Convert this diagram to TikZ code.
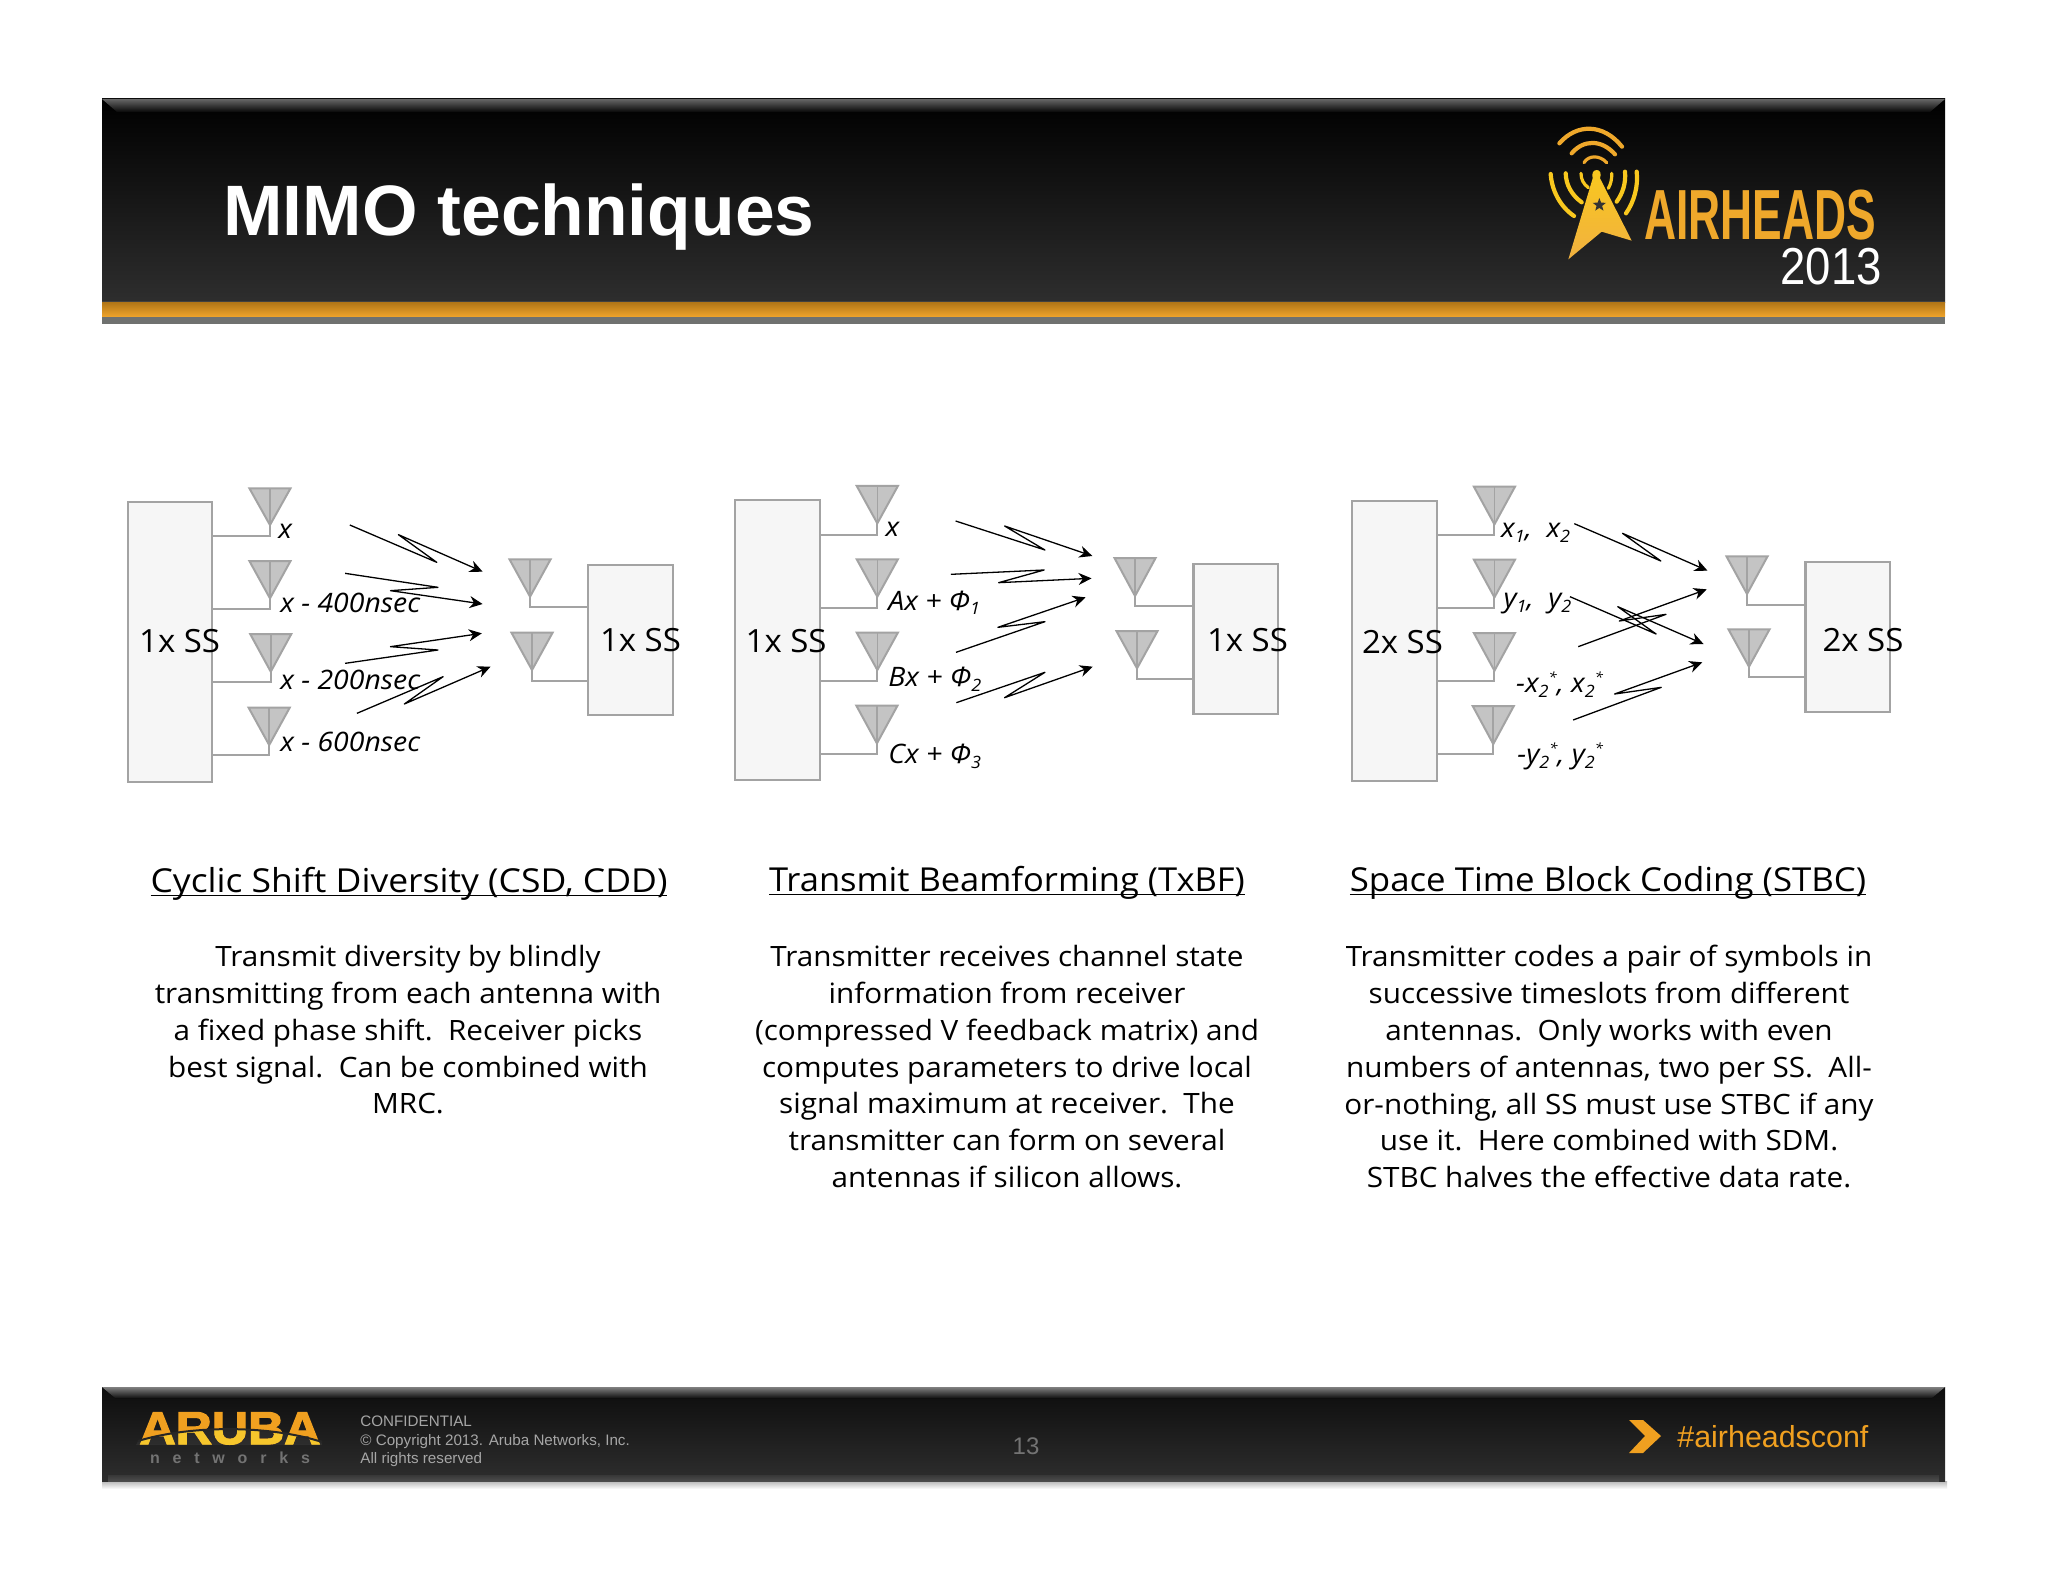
\documentclass[tikz,border=0pt]{standalone}
\usepackage{fontspec}
\setmainfont{Open Sans}
\newfontfamily\arialf{Liberation Sans}
\newfontface\arubaf{Liberation Sans Bold}[FakeBold=2.5]
\usetikzlibrary{arrows.meta,shapes.geometric}
\definecolor{boxfill}{HTML}{F6F6F6}
\definecolor{boxline}{HTML}{A3A3A3}
\definecolor{antfill}{HTML}{C4C4C4}
\definecolor{barorange}{HTML}{F0A020}
\definecolor{logoorange}{HTML}{EFA82B}
\definecolor{logoyellow}{HTML}{F9C81E}
\tikzset{
  ssbox/.style={draw=boxline,fill=boxfill,line width=1.1pt,inner sep=0pt,outer sep=0pt,anchor=north west,minimum width=42.3pt},
  antenna/.style={draw=boxline,fill=antfill,line width=1pt,line join=miter},
  antline/.style={draw=boxline,line width=.8pt},
  wire/.style={draw=boxline,line width=1pt},
  radio/.style={draw=black,line width=.65pt,line join=round,-{Stealth[length=6.5pt,width=6pt]}},
  sig/.style={anchor=base west,inner sep=0pt,xscale=1.06,font=\fontsize{13.4}{15}\selectfont\itshape},
  sslabel/.style={anchor=base west,inner sep=0pt,xscale=1.03,font=\fontsize{16}{18}\selectfont},
  heading/.style={inner sep=0pt,anchor=base,font=\fontsize{16.5}{18}\selectfont},
  bodytext/.style={anchor=north,inner sep=0pt,align=center,xscale=1.06,font=\fontsize{14}{18.4}\selectfont},
  panel/.style={x=.19763pt,y=-.16667pt},
  logoarc/.style={line width=2.1pt,line cap=round},
  foot/.style={anchor=base west,inner sep=0pt,text=black!35,font=\arialf\fontsize{7.6}{10}\selectfont}
}
\newcommand{\antn}[7]{% name, centre x, top, apex y, bottom y, box, anchor
  \coordinate (#1a) at (#2,#4);
  \coordinate (#1b) at (#2,#5);
  \draw[antenna] (#2-52,#3) -- (#2+52,#3) -- (#1a) -- cycle;
  \draw[antline] (#2,#3) -- (#1a);
  \draw[wire] (#1a) -- (#1b) -- (#6.#7 |- #1b);
}
\newcommand{\zig}[5]{% name, start, bend, bend, end
  \coordinate (#1s) at #2;
  \coordinate (#1e) at #5;
  \draw[radio] (#1s) -- #3 -- #4 -- (#1e);
}
\newcommand{\lsub}[1]{\raisebox{-2.4pt}{\fontsize{8.5}{9}\selectfont #1}}
\newcommand{\lsup}[1]{\raisebox{5pt}{\fontsize{7}{8}\selectfont #1}}
\newcommand{\ulx}[1]{\setbox0=\hbox{#1}\rlap{\rule[-2.1pt]{\wd0}{.6pt}}\box0}
\begin{document}
\begin{tikzpicture}[x=.5pt,y=-.5pt]
\useasboundingbox (0,0) rectangle (2048,1582);
\fill[white] (0,0) rectangle (2048,1582);

% header
\fill[top color=black,bottom color=black!82] (102,99) rectangle (1945,303);
\fill[top color=black!60,bottom color=black!97] (102,99) -- (1945,99) -- (1930,112) -- (117,112) -- cycle;
\fill[black!75] (102,301) rectangle (1945,303);
\fill[top color=barorange!75!black,bottom color=barorange!95!white] (102,303) rectangle (1945,317);
\fill[black!55!green!3!white!45!black] (102,317) rectangle (1945,324);
\node[anchor=base west,inner sep=0pt,text=white,font=\arialf\bfseries\fontsize{35.7}{40}\selectfont] (title) at (223,236) {MIMO techniques};

% airheads logo
\begin{scope}[shift={(750pt,-45pt)},x=.16667pt,y=-.16667pt]
  \shade[top color=logoyellow,bottom color=logoorange!90!white] (290,240) .. controls (300,240) and (305,250) .. (300,265) -- (395,452) -- (305,425) -- (205,508) -- (278,265) .. controls (274,250) and (280,240) .. (290,240) -- cycle;
  \node[star,star points=5,star point ratio=2.4,fill=black!80,inner sep=0pt,minimum size=7pt] (logostar) at (298,345) {};
  \draw[logoarc,draw=logoorange] (178,160) .. controls (230,100) and (310,100) .. (366,170);
  \draw[logoarc,draw=logoorange] (215,190) .. controls (250,148) and (305,148) .. (345,193);
  \draw[logoarc,draw=logoorange,line width=1.6pt] (252,218) .. controls (265,195) and (300,195) .. (320,218);
  \draw[logoarc,draw=logoyellow] (152,252) .. controls (155,300) and (180,350) .. (222,378);
  \draw[logoarc,draw=logoyellow] (197,250) .. controls (198,285) and (215,315) .. (245,337);
  \draw[logoarc,draw=logoyellow,line width=1.6pt] (243,250) .. controls (243,268) and (250,282) .. (265,293);
  \draw[logoarc,draw=logoyellow,line width=1.6pt] (335,250) .. controls (336,268) and (332,282) .. (325,295);
  \draw[logoarc,draw=logoyellow] (375,245) .. controls (378,280) and (368,310) .. (350,335);
  \draw[logoarc,draw=logoyellow] (410,245) .. controls (415,290) and (402,335) .. (378,370);
\end{scope}
\node[anchor=base west,inner sep=0pt,text=logoorange,xscale=.625,font=\arialf\bfseries\fontsize{35.5}{40}\selectfont] (airheads) at (1644,240) {AIRHEADS};
\node[anchor=base east,inner sep=0pt,text=white,xscale=.875,font=\arialf\fontsize{26}{30}\selectfont] (year) at (1882,285) {2013};

% panel 1
\begin{scope}[shift={(50pt,-235pt)},panel]
  \node[ssbox,minimum height=140pt] (pA) at (70,95) {};
  \node[ssbox,minimum height=74.8pt] (qA) at (1235,286) {};
  \antn{a1}{430}{55}{165}{198}{pA}{east}
  \antn{a2}{430}{273}{385}{418}{pA}{east}
  \antn{a3}{432}{492}{605}{637}{pA}{east}
  \antn{a4}{428}{713}{825}{856}{pA}{east}
  \antn{b1}{1088}{268}{380}{412}{qA}{west}
  \antn{b2}{1093}{488}{600}{632}{qA}{west}
  \zig{za1}{(632,165)}{(852,277)}{(755,194)}{(968,305)}
  \zig{za2}{(620,310)}{(855,352)}{(735,362)}{(968,402)}
  \zig{za3}{(620,580)}{(855,540)}{(735,530)}{(966,490)}
  \zig{za4}{(650,730)}{(868,620)}{(770,702)}{(988,590)}
  \node[sslabel] (pAt) at (98,548) {1x SS};
  \node[sslabel] (qAt) at (1264,543) {1x SS};
  \node[sig] (la1) at (450,205) {x};
  \node[sig] (la2) at (455,427) {x - 400nsec};
  \node[sig] (la3) at (455,657) {x - 200nsec};
  \node[sig] (la4) at (455,843) {x - 600nsec};
\end{scope}

% panel 2
\begin{scope}[shift={(360pt,-235pt)},panel]
  \node[ssbox,minimum height=140pt] (pB) at (38,90) {};
  \node[ssbox,minimum height=74.8pt] (qB) at (1198,282) {};
  \antn{c1}{398}{48}{160}{194}{pB}{east}
  \antn{c2}{398}{268}{380}{413}{pB}{east}
  \antn{c3}{398}{488}{600}{633}{pB}{east}
  \antn{c4}{397}{707}{820}{852}{pB}{east}
  \antn{d1}{1050}{264}{378}{408}{qB}{west}
  \antn{d2}{1055}{483}{595}{627}{qB}{west}
  \zig{zb1}{(596,153)}{(822,240)}{(720,168)}{(942,258)}
  \zig{zb2}{(584,313)}{(820,300)}{(705,338)}{(940,325)}
  \zig{zb3}{(597,547)}{(822,455)}{(703,472)}{(925,382)}
  \zig{zb4}{(598,698)}{(822,607)}{(720,683)}{(943,590)}
  \node[sslabel] (pBt) at (64,548) {1x SS};
  \node[sslabel] (qBt) at (1231,543) {1x SS};
  \node[sig] (lb1) at (418,200) {x};
  \node[sig] (lb2) at (425,420) {Ax + Φ\lsub{1}};
  \node[sig] (lb3) at (425,650) {Bx + Φ\lsub{2}};
  \node[sig] (lb4) at (425,880) {Cx + Φ\lsub{3}};
\end{scope}

% panel 3
\begin{scope}[shift={(665pt,-235pt)},panel]
  \node[ssbox,minimum height=140pt] (pC) at (56,92) {};
  \node[ssbox,minimum height=74.8pt] (qC) at (1203,276) {};
  \antn{e1}{416}{50}{163}{195}{pC}{east}
  \antn{e2}{416}{269}{382}{414}{pC}{east}
  \antn{e3}{416}{489}{602}{633}{pC}{east}
  \antn{e4}{413}{708}{822}{853}{pC}{east}
  \antn{f1}{1055}{259}{372}{404}{qC}{west}
  \antn{f2}{1060}{478}{590}{622}{qC}{west}
  \zig{zc1}{(618,161)}{(837,273)}{(740,190)}{(955,302)}
  \zig{zc2}{(607,380)}{(825,492)}{(728,410)}{(945,522)}
  \zig{zc3}{(628,530)}{(850,433)}{(732,453)}{(953,358)}
  \zig{zc4}{(615,750)}{(838,652)}{(720,672)}{(942,577)}
  \node[sslabel] (pCt) at (80,550) {2x SS};
  \node[sslabel] (qCt) at (1245,545) {2x SS};
  \node[sig] (lc1) at (432,203) {x\lsub{1}, \ x\lsub{2}};
  \node[sig] (lc2) at (438,412) {y\lsub{1}, \ y\lsub{2}};
  \node[sig] (lc3) at (470,668) {-x\lsub{2}\lsup{*}, x\lsub{2}\lsup{*}};
  \node[sig] (lc4) at (473,880) {-y\lsub{2}\lsup{*}, y\lsub{2}\lsup{*}};
\end{scope}

% headings
\node[heading,xscale=1.075] (h1) at (409,892) {\ulx{Cyclic Shift Diversity (CSD, CDD)}};
\node[heading,xscale=1.045] (h2) at (1007,891) {\ulx{Transmit Beamforming (TxBF)}};
\node[heading,xscale=1.055] (h3) at (1608,891) {\ulx{Space Time Block Coding (STBC)}};

% body
\node[bodytext] (t1) at (408,945) {Transmit diversity by blindly\\transmitting from each antenna with\\a fixed phase shift.\ \ Receiver picks\\best signal.\ \ Can be combined with\\MRC.};
\node[bodytext] (t2) at (1007,945) {Transmitter receives channel state\\information from receiver\\(compressed V feedback matrix) and\\computes parameters to drive local\\signal maximum at receiver.\ \ The\\transmitter can form on several\\antennas if silicon allows.};
\node[bodytext] (t3) at (1609,945) {Transmitter codes a pair of symbols in\\successive timeslots from different\\antennas.\ \ Only works with even\\numbers of antennas, two per SS.\ \ All-\\or-nothing, all SS must use STBC if any\\use it.\ \ Here combined with SDM.\\STBC halves the effective data rate.};

% footer
\fill[top color=black!28,bottom color=white] (102,1481) rectangle (1947,1489);
\fill[top color=black!95,bottom color=black!82] (102,1387) rectangle (1945,1481);
\fill[top color=black!50,bottom color=black!93] (102,1387) -- (1945,1387) -- (1932,1398) -- (115,1398) -- cycle;
\fill[top color=black!78,bottom color=black!70] (108,1475) rectangle (1939,1481);

% aruba logo
\node[anchor=base,inner sep=0pt,text=barorange,xscale=1.09,font=\arubaf\fontsize{23}{26}\selectfont] (aruba) at (230,1444) {ARUBA};
\begin{scope}[blend mode=overlay]
  \fill[black!30] (136,1445) -- (322,1445) -- (322,1441) .. controls (270,1425) and (190,1425) .. (138,1441) -- cycle;
\end{scope}
\draw[black!85,line width=1pt] (138,1441) .. controls (190,1425) and (270,1425) .. (322,1442);
\node[anchor=base,inner sep=0pt,text=black!55,font=\arialf\bfseries\fontsize{8}{10}\selectfont] (nets) at (230,1463) {n\hspace{.8em}e\hspace{.8em}t\hspace{.8em}w\hspace{.8em}o\hspace{.8em}r\hspace{.8em}k\hspace{.8em}s};
\node[foot] (f1) at (360,1426) {CONFIDENTIAL};
\node[foot] (f2) at (360,1445) {© Copyright 2013. Aruba Networks, Inc.};
\node[foot] (f3) at (360,1463) {All rights reserved};
\node[inner sep=0pt,text=black!55,font=\arialf\fontsize{12}{14}\selectfont] (pgnum) at (1026,1446) {13};

% hashtag
\fill[barorange] (1629,1420) -- (1643,1420) -- (1661,1436) -- (1643,1453) -- (1629,1453) -- (1645,1436) -- cycle;
\node[anchor=base west,inner sep=0pt,text=barorange,font=\arialf\fontsize{15.2}{18}\selectfont] (tag) at (1677,1447) {\#airheadsconf};
\end{tikzpicture}
\end{document}
